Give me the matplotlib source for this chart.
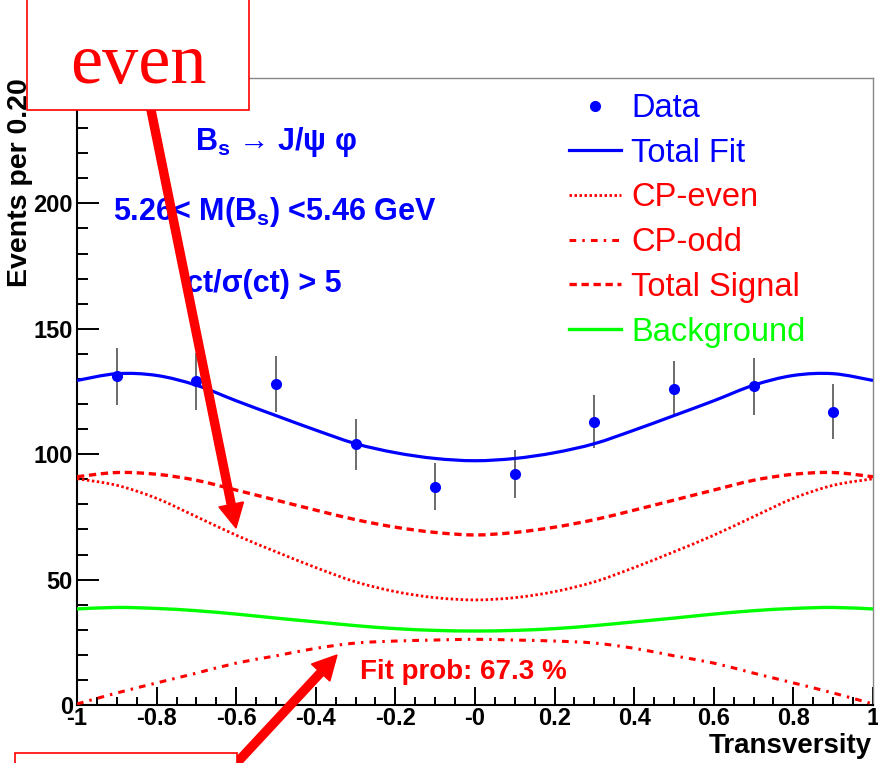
import matplotlib
matplotlib.use("Agg")
import matplotlib.pyplot as plt
from matplotlib.lines import Line2D
from matplotlib.path import Path
from matplotlib.patches import Rectangle, FancyArrow, PathPatch
from matplotlib.transforms import IdentityTransform
from matplotlib.ticker import MultipleLocator

plt.rcParams['font.family'] = ['Liberation Sans', 'DejaVu Sans']
plt.rcParams['mathtext.fontset'] = 'custom'
plt.rcParams['mathtext.rm'] = 'Liberation Sans'
plt.rcParams['mathtext.bf'] = 'Liberation Sans:bold'
plt.rcParams['mathtext.it'] = 'Liberation Sans:italic'

# binned transversity data
bin_centres = [-0.9, -0.7, -0.5, -0.3, -0.1, 0.1, 0.3, 0.5, 0.7, 0.9]
counts = [131, 129, 128, 104, 87, 92, 113, 126, 127, 117]
errors = [11.4, 11.4, 11.3, 10.2, 9.3, 9.6, 10.6, 11.2, 11.3, 10.8]

# fit projections
xs = [-1.0, -0.9, -0.8, -0.7, -0.6, -0.5, -0.4, -0.3, -0.2, -0.1, 0.0,
      0.1, 0.2, 0.3, 0.4, 0.5, 0.6, 0.7, 0.8, 0.9, 1.0]
total_fit = [129.4, 132.1, 131.4, 127.5, 121.3, 115.4, 109.6, 104.2, 100.6, 98.3, 97.4,
             98.3, 100.6, 104.2, 109.6, 115.4, 121.3, 127.5, 131.4, 132.1, 129.4]
cp_even = [90.2, 87.6, 82.4, 75.1, 67.7, 61.1, 54.8, 49.1, 45.2, 42.8, 41.9,
           42.8, 45.2, 49.1, 54.8, 61.1, 67.7, 75.1, 82.4, 87.6, 90.2]
cp_odd = [0.4, 4.8, 8.8, 12.7, 16.7, 19.6, 22.6, 24.7, 25.5, 25.9, 26.2,
          25.9, 25.5, 24.7, 22.6, 19.6, 16.7, 12.7, 8.8, 4.8, 0.4]
total_signal = [91.0, 92.7, 92.0, 89.6, 85.7, 81.7, 77.7, 73.9, 70.9, 68.8, 67.8,
                68.8, 70.9, 73.9, 77.7, 81.7, 85.7, 89.6, 92.0, 92.7, 91.0]
background = [38.3, 38.9, 38.5, 37.6, 36.25, 34.65, 33.15, 31.65, 30.45, 29.75, 29.5,
              29.75, 30.45, 31.65, 33.15, 34.65, 36.25, 37.6, 38.5, 38.9, 38.3]

xtick_vals = [-1, -0.8, -0.6, -0.4, -0.2, 0, 0.2, 0.4, 0.6, 0.8, 1]
xtick_text = ['-1', '-0.8', '-0.6', '-0.4', '-0.2', '-0', '0.2', '0.4', '0.6', '0.8', '1']
ytick_vals = [0, 50, 100, 150, 200, 250]


def smooth_path(x, y):
    # Catmull-Rom through the sampled points, as cubic Bezier segments
    verts = [(x[0], y[0])]
    codes = [Path.MOVETO]
    n = len(x)
    for i in range(n - 1):
        xa, ya = (x[i - 1], y[i - 1]) if i > 0 else (x[i], y[i])
        xb, yb = (x[i + 2], y[i + 2]) if i + 2 < n else (x[i + 1], y[i + 1])
        c1 = (x[i] + (x[i + 1] - xa) / 6, y[i] + (y[i + 1] - ya) / 6)
        c2 = (x[i + 1] - (xb - x[i]) / 6, y[i + 1] - (yb - y[i]) / 6)
        verts += [c1, c2, (x[i + 1], y[i + 1])]
        codes += [Path.CURVE4] * 3
    return Path(verts, codes)


def draw_curve(ax, y, label, **style):
    ax.add_patch(PathPatch(smooth_path(xs, y), fill=False, zorder=3, **{
        'edgecolor': style['color'], 'lw': style['lw'], 'linestyle': style['ls']}))
    return Line2D([], [], color=style['color'], lw=style['lw'], linestyle=style['ls'],
                  label=label)


W, H = 879, 763
fig = plt.figure(figsize=(W / 100, H / 100), dpi=100)
ax = fig.add_axes([77 / W, (H - 705) / H, (873 - 77) / W, (705 - 78) / H])

ax.errorbar(bin_centres, counts, yerr=errors, fmt='none', ecolor='#444444',
            elinewidth=1.1, capsize=0, zorder=2)
h_data, = ax.plot(bin_centres, counts, 'o', color='blue', markersize=7, zorder=4,
                  label='Data')
h_fit = draw_curve(ax, total_fit, 'Total Fit', color='blue', lw=2.3, ls='-')
h_even = draw_curve(ax, cp_even, 'CP-even', color='red', lw=2.0, ls=(0, (0.9, 0.9)))
h_odd = draw_curve(ax, cp_odd, 'CP-odd', color='red', lw=2.2, ls=(0, (2.2, 2.0, 0.8, 2.0)))
h_sig = draw_curve(ax, total_signal, 'Total Signal', color='red', lw=2.4, ls=(0, (2.2, 1.4)))
h_bkg = draw_curve(ax, background, 'Background', color='#00ff00', lw=2.4, ls='-')

ax.set_xlim(-1, 1)
ax.set_ylim(0, 250)
ax.set_xticks(xtick_vals)
ax.set_xticklabels(xtick_text)
ax.set_yticks(ytick_vals)
ax.xaxis.set_minor_locator(MultipleLocator(0.05))
ax.yaxis.set_minor_locator(MultipleLocator(10))
ax.tick_params(which='both', direction='in', top=False, right=False, width=1.4,
               labelsize=17)
ax.tick_params(axis='y', which='major', length=16, pad=3)
ax.tick_params(axis='y', which='minor', length=8)
ax.tick_params(axis='x', which='major', length=13, pad=1.5)
ax.tick_params(axis='x', which='minor', length=6)
for lab in ax.get_xticklabels() + ax.get_yticklabels():
    lab.set_fontweight('bold')
for side in ('left', 'bottom'):
    ax.spines[side].set_linewidth(1.5)
for side in ('top', 'right'):
    ax.spines[side].set_color('#888888')
    ax.spines[side].set_linewidth(1.0)

leg = ax.legend(handles=[h_data, h_fit, h_even, h_odd, h_sig, h_bkg],
                loc='upper left', bbox_to_anchor=(569 / W, (H - 93) / H),
                bbox_transform=fig.transFigure, frameon=False, fontsize=23.5,
                handlelength=1.6, handletextpad=0.3, labelspacing=0.42,
                borderpad=0, borderaxespad=0,
                labelcolor=['blue', 'blue', 'red', 'red', 'red', '#00ff00'])

# axis titles
fig.text(872 / W, (H - 746) / H, 'Transversity', ha='right', va='center',
         fontsize=20, fontweight='bold')
fig.text(20 / W, (H - 78) / H, 'Events per 0.20', rotation=90, ha='center', va='top',
         fontsize=20.5, fontweight='bold')

# selection info
blue_kw = dict(color='blue', fontsize=22, fontweight='bold', va='center')
fig.text(195 / W, (H - 142) / H, r'$\mathbf{B_s}$ → J/ψ φ', **blue_kw)
fig.text(113 / W, (H - 212) / H, r'5.26< M($\mathbf{B_s}$) <5.46 GeV', **blue_kw)
fig.text(186 / W, (H - 284) / H, 'ct/σ(ct) > 5', **blue_kw)
fig.text(360 / W, (H - 672) / H, 'Fit prob: 67.3 %', color='red', fontsize=20,
         fontweight='bold', va='center')

# callout boxes and arrows, in pixel coordinates
px = IdentityTransform()
fig.add_artist(FancyArrow(150, H - 105, 236 - 150, (H - 528) - (H - 105), width=8,
                          head_width=25, head_length=24, length_includes_head=True,
                          color='red', transform=px, zorder=4))
fig.add_artist(FancyArrow(232, H - 768, 337 - 232, (H - 655) - (H - 768), width=8,
                          head_width=25, head_length=24, length_includes_head=True,
                          color='red', transform=px, zorder=4))
fig.add_artist(Rectangle((27, H - 110), 222, 130, facecolor='white', edgecolor='red',
                         lw=1.2, transform=px, zorder=5))
fig.add_artist(Rectangle((15, -20), 222, 30, facecolor='white', edgecolor='red',
                         lw=1.2, transform=px, zorder=5))
fig.text(138 / W, (H - 83) / H, 'even', family='Liberation Serif', color='red',
         fontsize=52, ha='center', va='baseline', zorder=6)

fig.savefig('out.png', dpi=100)
